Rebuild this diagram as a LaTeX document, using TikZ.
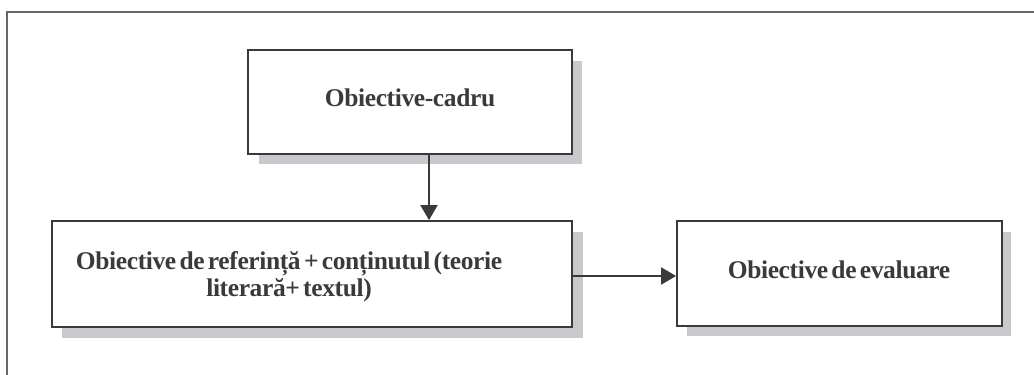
\documentclass[tikz,border=0pt]{standalone}
\usepackage{fontspec}
\setmainfont{Liberation Serif}
\newfontfamily\boxfont[LetterSpace=-1.5, WordSpace=0.55]{Liberation Serif Bold}
\usetikzlibrary{arrows.meta}
\definecolor{inkgray}{HTML}{3A3A3A}
\definecolor{framegray}{HTML}{666666}
\definecolor{shadowgray}{HTML}{C8C8CD}
\begin{document}
\begin{tikzpicture}[x=1pt,y=-1pt,
  box/.style={draw=inkgray, line width=1.8pt, fill=white, inner sep=0pt},
  boxtext/.style={align=center, text=inkgray, inner sep=0pt,
    font=\boxfont\fontsize{25.5}{27}\selectfont},
  link/.style={draw=inkgray, line width=2pt, -{Triangle[length=15pt,width=17pt]}}]
  \useasboundingbox (0,0) rectangle (1034,375);
  % page frame: only the top and left rules fall inside the picture
  \draw[framegray, line width=2pt] (7,375) -- (7,12) -- (1034,12);
  % drop shadows
  \fill[shadowgray] (259,61) rectangle (582,164);
  \fill[shadowgray] (62,232) rectangle (583,338);
  \fill[shadowgray] (687,232) rectangle (1011,336);
  % boxes
  \node[box, minimum width=324pt, minimum height=104pt] (cadru) at (410,102) {};
  \node[box, minimum width=520pt, minimum height=106pt] (ref) at (312,274) {};
  \node[box, minimum width=325pt, minimum height=105pt] (eval) at (839.5,273.5) {};
  % box texts
  \node[boxtext] (cadrutext) at (410,98) {Obiective-cadru};
  \node[boxtext] (reftext) at (289,277)
    {Obiective de referință + conținutul (teorie\\literară+ textul)};
  \node[boxtext] (evaltext) at (839,270) {Obiective de evaluare};
  % connectors
  \draw[link] (cadru.south -| 429,0) -- (ref.north -| 429,0);
  \draw[link] (ref.east |- 0,276) -- (eval.west |- 0,276);
\end{tikzpicture}
\end{document}
